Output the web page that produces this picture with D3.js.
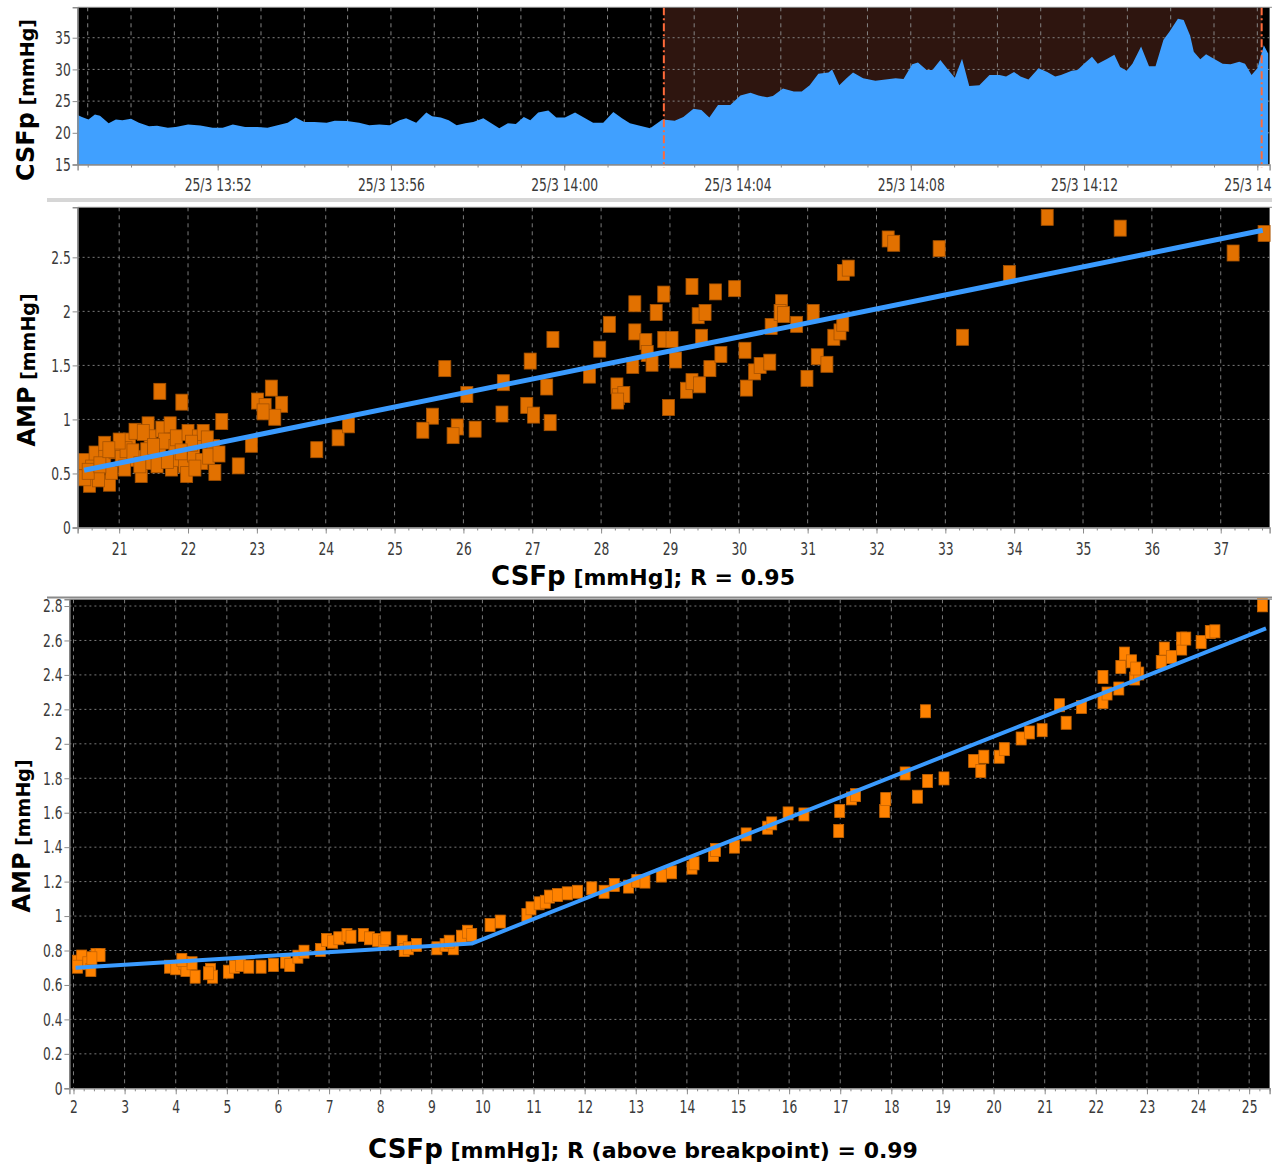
<!DOCTYPE html>
<html>
<head>
<meta charset="utf-8">
<script src="https://cdn.jsdelivr.net/npm/d3@7"></script>
<style>
  html, body { margin: 0; padding: 0; background: #fff; }
  svg { display: block; }
</style>
</head>
<body>
<svg id="chart" width="1272" height="1168"></svg>
<script>
// ---------------- data ----------------
// CSF pressure trend (time, mmHg)
const dateLabel = "25/3";
const csfTimes = [
  "13:48:46","13:48:52","13:49:01","13:49:10","13:49:17","13:49:29","13:49:39","13:49:48",
  "13:50:00","13:50:11","13:50:25","13:50:36","13:50:51","13:51:02","13:51:19","13:51:36",
  "13:51:53","13:52:07","13:52:21","13:52:38","13:52:55","13:53:09","13:53:23","13:53:37",
  "13:53:48","13:54:00","13:54:14","13:54:31","13:54:42","13:54:59","13:55:16","13:55:30",
  "13:55:44","13:55:58","13:56:12","13:56:21","13:56:35","13:56:49","13:56:57","13:57:09",
  "13:57:20","13:57:31","13:57:43","13:57:54","13:58:08","13:58:19","13:58:30","13:58:42",
  "13:58:53","13:59:04","13:59:13","13:59:24","13:59:38","13:59:49","14:00:01","14:00:15",
  "14:00:29","14:00:40","14:00:54","14:01:08","14:01:20","14:01:31","14:01:42","14:01:59",
  "14:02:16","14:02:33","14:02:45","14:02:59","14:03:10","14:03:21","14:03:33","14:03:50",
  "14:04:04","14:04:18","14:04:29","14:04:41","14:04:49","14:05:03","14:05:18","14:05:29",
  "14:05:40","14:05:52","14:06:06","14:06:11","14:06:21","14:06:31","14:06:40","14:06:54",
  "14:07:11","14:07:25","14:07:39","14:07:50","14:08:02","14:08:10","14:08:22","14:08:30",
  "14:08:41","14:08:50","14:09:01","14:09:11","14:09:21","14:09:35","14:09:49","14:10:03",
  "14:10:12","14:10:23","14:10:32","14:10:43","14:10:57","14:11:09","14:11:20","14:11:28",
  "14:11:43","14:11:51","14:12:00","14:12:11","14:12:19","14:12:31","14:12:42","14:12:50",
  "14:12:59","14:13:07","14:13:19","14:13:30","14:13:39","14:13:50","14:13:58","14:14:10",
  "14:14:18","14:14:27","14:14:32","14:14:41","14:14:49","14:15:01","14:15:12","14:15:23",
  "14:15:35","14:15:43","14:15:52","14:16:00","14:16:09","14:16:15"
];
const csfValues = [
  22.8,22.5,22.1,22.9,22.7,21.5,22.1,22.0,
  22.2,21.6,21.05,21.1,20.8,20.9,21.3,21.15,
  20.8,20.8,21.3,20.9,20.9,20.8,21.2,21.6,
  22.4,21.7,21.7,21.6,21.9,21.85,21.6,21.2,
  21.3,21.2,22.0,22.3,21.6,23.2,22.6,22.4,
  22.0,21.2,21.5,21.7,22.3,21.5,20.7,21.5,
  21.4,22.5,22.0,23.2,23.5,22.4,22.4,23.2,
  22.3,21.6,21.6,23.3,22.3,21.5,21.2,20.7,
  22.1,21.9,22.5,23.8,23.6,22.4,24.4,24.4,
  25.9,26.3,25.9,25.6,25.8,27.0,26.5,26.5,
  27.5,29.3,29.5,30.0,27.5,28.6,29.5,28.6,
  28.2,28.4,28.6,28.5,30.8,31.1,29.9,29.9,
  31.5,30.2,28.7,31.7,27.4,27.5,29.1,29.1,
  28.9,29.6,28.9,28.4,30.2,29.6,28.9,29.1,
  29.8,29.9,30.9,32.0,30.9,31.6,32.3,30.4,
  29.8,30.9,33.6,30.5,30.5,34.7,35.9,38.0,
  37.8,35.3,32.8,31.6,32.4,31.6,30.9,30.8,
  31.2,30.9,29.1,30.2,33.8,32.5
];
const trendWindow = ["13:48:46", "14:16:17"];
const selectionWindow = ["14:02:18", "14:16:06"];
const trendYTicks = [15, 20, 25, 30, 35];

// AMP vs CSFp scatter (whole recording)
const ampCsf = [
  20.50,20.57,20.50,20.65,20.79,20.79,20.86,20.89,20.94,21.03,21.08,21.15,21.23,21.32,21.25,
  21.42,21.45,21.47,21.40,21.59,21.62,21.66,21.74,21.76,21.81,21.83,21.81,21.95,22.00,21.98,
  22.08,22.15,22.20,22.22,22.37,22.39,22.49,21.59,21.91,22.73,22.92,23.01,23.12,23.21,23.36,
  23.26,23.09,23.87,24.18,24.33,20.60,21.10,21.55,22.05,21.35,22.30,20.70,
  20.55,20.72,21.00,21.20,21.50,21.70,21.90,22.10,22.28,21.30,20.85,22.45,
  25.73,25.55,25.41,25.91,25.85,26.17,26.05,26.58,26.56,26.97,27.30,26.92,27.02,27.21,27.26,
  27.83,27.98,28.12,28.23,28.25,28.33,28.24,28.49,28.49,28.65,28.67,28.46,28.74,28.91,28.80,
  28.91,29.03,29.08,28.98,29.32,29.41,29.51,29.46,29.66,29.24,29.32,29.43,29.58,29.74,29.94,
  30.09,30.11,30.23,30.31,30.45,30.47,30.62,30.60,30.65,30.84,31.08,30.99,31.14,31.28,31.38,
  31.47,31.51,31.52,31.59,
  32.17,32.25,32.91,34.48,35.54,37.18,37.63,33.93,33.25
];
const ampValues = [
  0.61,0.40,0.46,0.68,0.77,0.64,0.41,0.52,0.71,0.64,0.55,0.80,0.89,0.49,0.64,
  0.95,0.83,0.61,0.71,0.69,0.91,0.80,0.95,0.55,0.74,0.83,0.64,0.58,0.88,0.49,
  0.68,0.83,0.61,0.88,0.74,0.51,0.98,1.26,1.16,0.57,0.77,1.17,1.12,1.29,1.14,
  1.02,1.07,0.72,0.83,0.95,0.55,0.72,0.58,0.78,0.88,0.66,0.45,
  0.52,0.58,0.80,0.70,0.75,0.62,0.70,0.55,0.82,0.58,0.72,0.68,
  1.47,1.03,0.90,0.93,0.85,0.91,1.23,1.34,1.05,1.54,1.74,1.13,1.04,1.30,0.97,
  1.41,1.65,1.88,1.31,1.21,1.23,1.17,2.07,1.81,1.72,1.61,1.50,1.52,2.16,1.99,
  1.74,1.74,1.55,1.11,2.23,1.96,1.99,1.76,2.18,1.27,1.35,1.32,1.47,1.60,2.21,
  1.64,1.29,1.44,1.50,1.53,1.86,2.08,1.99,1.97,1.88,1.99,1.38,1.58,1.51,1.76,
  1.81,1.89,2.36,2.40,
  2.67,2.63,2.58,2.87,2.77,2.54,2.72,2.35,1.76
];
const ampFit = [[20.49, 0.53], [37.61, 2.75]];
const ampXTicks = [21,22,23,24,25,26,27,28,29,30,31,32,33,34,35,36,37];
const ampYTicks = [0, 0.5, 1, 1.5, 2, 2.5];
const ampR = "0.95";

// AMP vs CSFp with breakpoint fit (infusion test)
const infCsf = [
  2.08,2.16,2.28,2.34,2.44,2.52,2.08,2.36,3.88,4.00,4.16,4.20,4.32,4.38,4.12,4.68,4.72,4.64,
  5.03,5.15,5.27,5.43,5.67,5.91,6.15,6.23,6.39,6.51,6.83,6.95,7.07,7.19,7.35,7.43,7.67,7.79,
  7.95,8.07,8.11,8.43,8.47,8.55,8.71,9.11,9.27,9.43,9.35,9.59,9.71,9.79,10.15,10.35,10.87,
  10.95,11.11,11.23,11.31,11.47,11.66,11.86,12.14,12.38,12.58,12.86,
  13.02,13.18,13.50,13.70,14.10,14.14,14.52,14.56,14.93,15.16,15.58,15.66,15.98,16.29,16.97,
  16.99,17.22,17.30,17.87,17.89,18.27,18.51,18.71,19.03,18.67,19.61,19.75,19.81,20.11,20.21,
  20.54,20.70,20.95,21.29,21.42,21.72,22.14,22.14,22.22,22.45,22.49,22.56,22.70,22.76,22.84,
  22.78,23.28,23.34,23.48,23.68,23.68,23.76,24.06,24.24,24.33,25.26
];
const infAmp = [
  0.735,0.765,0.726,0.687,0.774,0.774,0.706,0.755,0.706,0.697,0.726,0.687,0.726,0.648,0.745,0.687,0.648,0.668,
  0.677,0.706,0.716,0.706,0.706,0.716,0.735,0.716,0.764,0.793,0.803,0.861,0.851,0.871,0.890,0.880,0.890,0.871,
  0.861,0.851,0.871,0.851,0.803,0.813,0.832,0.813,0.832,0.813,0.851,0.880,0.909,0.890,0.948,0.968,1.006,
  1.045,1.074,1.083,1.113,1.122,1.132,1.141,1.161,1.141,1.180,1.171,
  1.204,1.200,1.235,1.254,1.281,1.306,1.355,1.384,1.403,1.474,1.513,1.538,1.596,1.590,1.494,
  1.610,1.683,1.702,1.610,1.679,1.828,1.693,1.784,1.799,2.189,1.900,1.842,1.925,1.925,1.969,
  2.031,2.066,2.079,2.224,2.122,2.214,2.388,2.243,2.292,2.321,2.446,2.524,2.479,2.379,2.408,
  2.437,2.475,2.553,2.504,2.553,2.611,2.611,2.591,2.649,2.653,2.804
];
const infFit = [[2.04, 0.70], [9.79, 0.84], [25.33, 2.67]];
const infXTicks = [2,3,4,5,6,7,8,9,10,11,12,13,14,15,16,17,18,19,20,21,22,23,24,25];
const infYTicks = [0,0.2,0.4,0.6,0.8,1,1.2,1.4,1.6,1.8,2,2.2,2.4,2.6,2.8];
const infR = "0.99";

// ---------------- styling ----------------
const TICK_FONT = "'Liberation Sans Narrow','Arial Narrow','DejaVu Sans Condensed',sans-serif";
const TITLE_FONT = "'DejaVu Sans',Verdana,sans-serif";
const AXIS_GRAY = "#8c8c8c";
const GRID_GRAY = "#7a7a7a";
const TICK_TEXT = "#3a3a3a";
const TICK_SQUEEZE = 0.76;

const svg = d3.select("#chart");

function styleAxis(g) {
  g.attr("font-family", TICK_FONT).attr("font-size", 18);
  g.select(".domain").attr("stroke", AXIS_GRAY).attr("stroke-width", 1.4);
  g.selectAll(".tick line").attr("stroke", AXIS_GRAY).attr("stroke-width", 1);
  g.selectAll(".tick text").attr("fill", TICK_TEXT)
    .attr("transform", `scale(${TICK_SQUEEZE},1)`);
}

function minorAxis(g) {
  g.select(".domain").remove();
  g.selectAll(".tick line").attr("stroke", AXIS_GRAY).attr("stroke-width", 1);
  g.selectAll(".tick text").remove();
}

function gridLines(g, xs, ys, xScale, yScale, color) {
  const [x0, x1] = xScale.range();
  const [y0, y1] = yScale.range();
  g.selectAll(".vgrid").data(xs).join("line")
    .attr("x1", d => xScale(d)).attr("x2", d => xScale(d))
    .attr("y1", y1).attr("y2", y0)
    .attr("stroke", color).attr("stroke-width", 1)
    .attr("stroke-dasharray", "4,4");
  g.selectAll(".hgrid").data(ys).join("line")
    .attr("x1", x0).attr("x2", x1)
    .attr("y1", d => yScale(d)).attr("y2", d => yScale(d))
    .attr("stroke", color).attr("stroke-width", 1)
    .attr("stroke-dasharray", "2,3");
}

function axisTitle(x, y, rotate, big, small, bigSize, smallSize) {
  const t = svg.append("text")
    .attr("transform", `translate(${x},${y})` + (rotate ? " rotate(-90)" : ""))
    .attr("text-anchor", "middle")
    .attr("font-family", TITLE_FONT)
    .attr("font-weight", "bold")
    .attr("fill", "#000");
  t.append("tspan").attr("font-size", bigSize).text(big);
  t.append("tspan").attr("font-size", smallSize).text(" " + small);
}

// ---------------- panel 1: CSFp trend ----------------
const parseT = d3.timeParse("%H:%M:%S");
const fmtHM = d3.timeFormat("%H:%M");
const trend = csfTimes.map((t, i) => ({ t: parseT(t), v: csfValues[i] }));

const xT = d3.scaleTime()
  .domain(trendWindow.map(parseT))
  .range([77.6, 1269.6]);
const yT = d3.scaleLinear().domain([15, 39.8]).range([164.5, 7.3]);

const p1 = svg.append("g");
p1.append("rect")
  .attr("x", xT.range()[0]).attr("y", yT.range()[1])
  .attr("width", xT.range()[1] - xT.range()[0])
  .attr("height", yT.range()[0] - yT.range()[1])
  .attr("fill", "#000");
p1.append("rect")
  .attr("x", xT(parseT(selectionWindow[0]))).attr("y", yT.range()[1])
  .attr("width", xT(parseT(selectionWindow[1])) - xT(parseT(selectionWindow[0])))
  .attr("height", yT.range()[0] - yT.range()[1])
  .attr("fill", "#2e150f");

const minuteTicks = xT.ticks(d3.timeMinute.every(1));
const majorTimes = xT.ticks(d3.timeMinute.every(4));
gridLines(p1.append("g"), minuteTicks, trendYTicks.slice(1), xT, yT, "#858585");

p1.append("path")
  .datum(trend)
  .attr("fill", "#40a0ff")
  .attr("d", d3.area().x(d => xT(d.t)).y0(yT(15)).y1(d => yT(d.v)));

p1.append("g").selectAll("line").data(selectionWindow).join("line")
  .attr("x1", d => xT(parseT(d))).attr("x2", d => xT(parseT(d)))
  .attr("y1", yT.range()[1]).attr("y2", yT.range()[0] + 3)
  .attr("stroke", "#ff6a3a").attr("stroke-width", 2)
  .attr("stroke-dasharray", "8,3,2,3");

// plot frame top
p1.append("line").attr("x1", 77.6).attr("x2", 1272).attr("y1", 7.3).attr("y2", 7.3)
  .attr("stroke", AXIS_GRAY).attr("stroke-width", 1);

p1.append("g").attr("transform", `translate(0,${yT.range()[0]})`)
  .call(d3.axisBottom(xT).tickValues(minuteTicks).tickSize(3).tickFormat(""))
  .call(minorAxis);
p1.append("g").attr("transform", `translate(0,${yT.range()[0]})`)
  .call(d3.axisBottom(xT).tickValues(majorTimes).tickSize(6).tickPadding(8)
    .tickFormat(d => dateLabel + " " + fmtHM(d)))
  .call(styleAxis);
p1.append("g").attr("transform", `translate(${xT.range()[0]},0)`)
  .call(d3.axisLeft(yT).tickValues(trendYTicks).tickSize(5).tickPadding(4))
  .call(styleAxis);

axisTitle(34, 100, true, "CSFp", "[mmHg]", 24, 19);

// separator
svg.append("rect").attr("x", 47).attr("y", 198).attr("width", 1225).attr("height", 4)
  .attr("fill", "#d6d6d6");

// ---------------- scatter panel helper ----------------
function scatterPanel(cfg) {
  const g = svg.append("g");
  const x = d3.scaleLinear().domain(cfg.xDomain).range(cfg.xRange);
  const y = d3.scaleLinear().domain(cfg.yDomain).range(cfg.yRange);

  g.append("rect")
    .attr("x", cfg.xRange[0]).attr("y", cfg.yRange[1])
    .attr("width", cfg.xRange[1] - cfg.xRange[0])
    .attr("height", cfg.yRange[0] - cfg.yRange[1])
    .attr("fill", "#000");

  gridLines(g.append("g"), cfg.xTicks, cfg.yTicks.filter(v => v > 0), x, y, GRID_GRAY);

  g.append("g").selectAll("rect")
    .data(cfg.xs.map((v, i) => [v, cfg.ys[i]]))
    .join("rect")
    .attr("x", d => x(d[0]) - cfg.mw / 2)
    .attr("y", d => y(d[1]) - cfg.mh / 2)
    .attr("width", cfg.mw).attr("height", cfg.mh)
    .attr("fill", cfg.color)
    .attr("stroke", cfg.edge).attr("stroke-width", 0.8);

  g.append("path")
    .datum(cfg.fit)
    .attr("fill", "none")
    .attr("stroke", "#3a9bff")
    .attr("stroke-width", cfg.lw)
    .attr("stroke-linejoin", "round")
    .attr("d", d3.line().x(d => x(d[0])).y(d => y(d[1])));

  g.append("line").attr("x1", cfg.xRange[0]).attr("x2", 1272)
    .attr("y1", cfg.yRange[1]).attr("y2", cfg.yRange[1])
    .attr("stroke", AXIS_GRAY).attr("stroke-width", 1);

  const minor = d3.range(Math.ceil(cfg.xDomain[0] * 5), Math.floor(cfg.xDomain[1] * 5) + 1).map(v => v / 5);
  g.append("g").attr("transform", `translate(0,${cfg.yRange[0]})`)
    .call(d3.axisBottom(x).tickValues(minor).tickSize(3).tickFormat(""))
    .call(minorAxis);
  g.append("g").attr("transform", `translate(0,${cfg.yRange[0]})`)
    .call(d3.axisBottom(x).tickValues(cfg.xTicks).tickSize(6).tickPadding(cfg.xPad)
      .tickFormat(d3.format("~g")))
    .call(styleAxis);
  g.append("g").attr("transform", `translate(${cfg.xRange[0]},0)`)
    .call(d3.axisLeft(y).tickValues(cfg.yTicks).tickSize(5).tickPadding(4)
      .tickFormat(d3.format("~g")))
    .call(styleAxis);
  return g;
}

// ---------------- panel 2 ----------------
scatterPanel({
  xDomain: [20.396, 37.71], xRange: [77.6, 1269.6],
  yDomain: [0, 2.963], yRange: [527.5, 207.3],
  xTicks: ampXTicks, yTicks: ampYTicks,
  xs: ampCsf, ys: ampValues, fit: ampFit,
  mw: 12, mh: 16, color: "#e27100", edge: "#a65200", lw: 5, xPad: 9
});
axisTitle(35, 370, true, "AMP", "[mmHg]", 24, 19);
axisTitle(643, 585, false, "CSFp", `[mmHg]; R = ${ampR}`, 26, 22);

svg.append("line").attr("x1", 47).attr("x2", 1272).attr("y1", 597.5).attr("y2", 597.5)
  .attr("stroke", "#8a8a8a").attr("stroke-width", 2);

// ---------------- panel 3 ----------------
scatterPanel({
  xDomain: [1.92, 25.40], xRange: [69.4, 1269.6],
  yDomain: [0, 2.839], yRange: [1088.3, 599.3],
  xTicks: infXTicks, yTicks: infYTicks,
  xs: infCsf, ys: infAmp, fit: infFit,
  mw: 10, mh: 13, color: "#ff8200", edge: "#c86400", lw: 4, xPad: 6
});
axisTitle(30, 836, true, "AMP", "[mmHg]", 24, 19);
axisTitle(643, 1158, false, "CSFp", `[mmHg]; R (above breakpoint) = ${infR}`, 26, 22);
</script>
</body>
</html>
